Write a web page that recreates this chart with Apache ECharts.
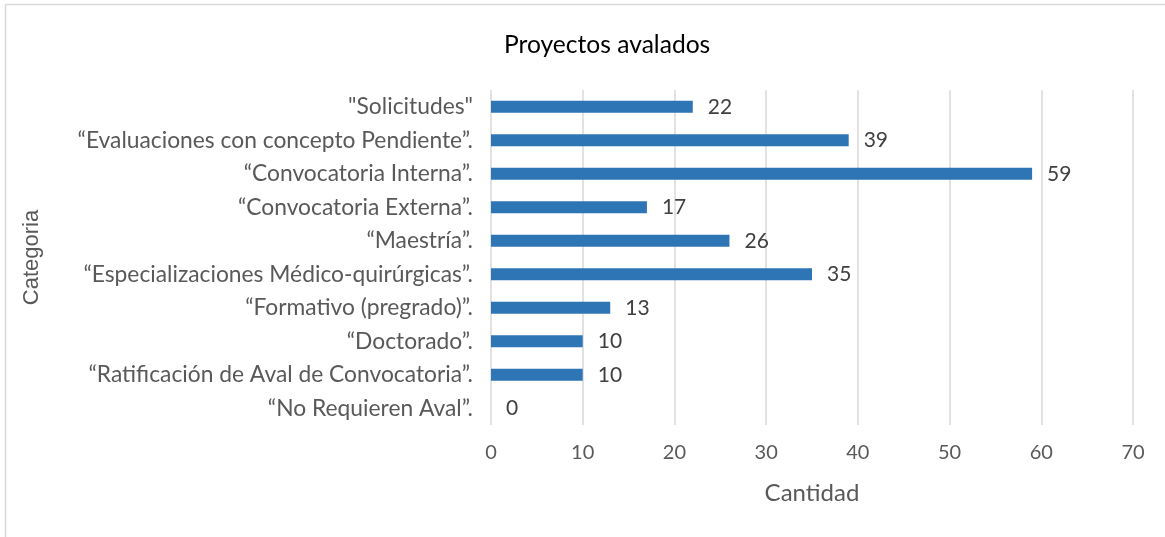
<!DOCTYPE html>
<html>
<head>
<meta charset="utf-8">
<script src="https://cdn.jsdelivr.net/npm/echarts@6/dist/echarts.min.js"></script>
<style>
  html, body { margin: 0; padding: 0; background: #fff; }
  #chart { width: 1165px; height: 537px; }
</style>
</head>
<body>
<div id="chart"></div>
<script>
// Categories, top to bottom
const categories = [
  '"Solicitudes"',
  '\u201CEvaluaciones con concepto Pendiente\u201D.',
  '\u201CConvocatoria Interna\u201D.',
  '\u201CConvocatoria Externa\u201D.',
  '\u201CMaestr\u00EDa\u201D.',
  '\u201CEspecializaciones M\u00E9dico-quir\u00FArgicas\u201D.',
  '\u201CFormativo (pregrado)\u201D.',
  '\u201CDoctorado\u201D.',
  '\u201CRatificaci\u00F3n de Aval de Convocatoria\u201D.',
  '\u201CNo Requieren Aval\u201D.'
];
// Number of projects per category
const cantidad = [22, 39, 59, 17, 26, 35, 13, 10, 10, 0];
// Value axis ticks
const xMin = 0, xMax = 70, xStep = 10;

const FONT = 'Lato, "Open Sans", sans-serif';
const chart = echarts.init(document.getElementById('chart'));
chart.setOption({
  backgroundColor: '#ffffff',
  animation: false,
  title: {
    text: 'Proyectos avalados',
    left: 499,
    top: 28,
    textStyle: { fontFamily: FONT, fontSize: 24.6, fontWeight: 'normal', color: '#000000' }
  },
  graphic: [{
    type: 'rect',
    shape: { x: 5.5, y: 4.5, width: 1170, height: 545 },
    style: { fill: 'none', stroke: '#d9d9d9', lineWidth: 1.5 },
    silent: true
  }],
  grid: { left: 491, right: 32, top: 90, bottom: 112 },
  xAxis: {
    type: 'value',
    min: xMin, max: xMax, interval: xStep,
    name: 'Cantidad',
    nameLocation: 'middle',
    nameGap: 56,
    nameTextStyle: { fontFamily: FONT, fontSize: 24, color: '#595959' },
    axisLine: { show: false },
    axisTick: { show: false },
    axisLabel: { margin: 18, fontFamily: FONT, fontSize: 20, color: '#595959' },
    splitLine: { show: true, lineStyle: { color: '#d9d9d9', width: 1.5 } }
  },
  yAxis: {
    type: 'category',
    data: categories,
    inverse: true,
    name: 'Categoria',
    nameLocation: 'middle',
    nameGap: 448,
    nameRotate: 90,
    nameTextStyle: { fontFamily: '"Liberation Sans", Arial, sans-serif', fontSize: 22, color: '#595959' },
    axisLine: { show: false },
    axisTick: { show: false },
    axisLabel: { margin: 18, fontFamily: FONT, fontSize: 22.8, color: '#595959' }
  },
  series: [{
    type: 'bar',
    data: cantidad,
    barWidth: 12,
    itemStyle: { color: '#2E75B6' },
    label: {
      show: true,
      position: 'right',
      distance: 15,
      fontFamily: FONT,
      fontSize: 21,
      color: '#404040'
    }
  }]
});
</script>
</body>
</html>
